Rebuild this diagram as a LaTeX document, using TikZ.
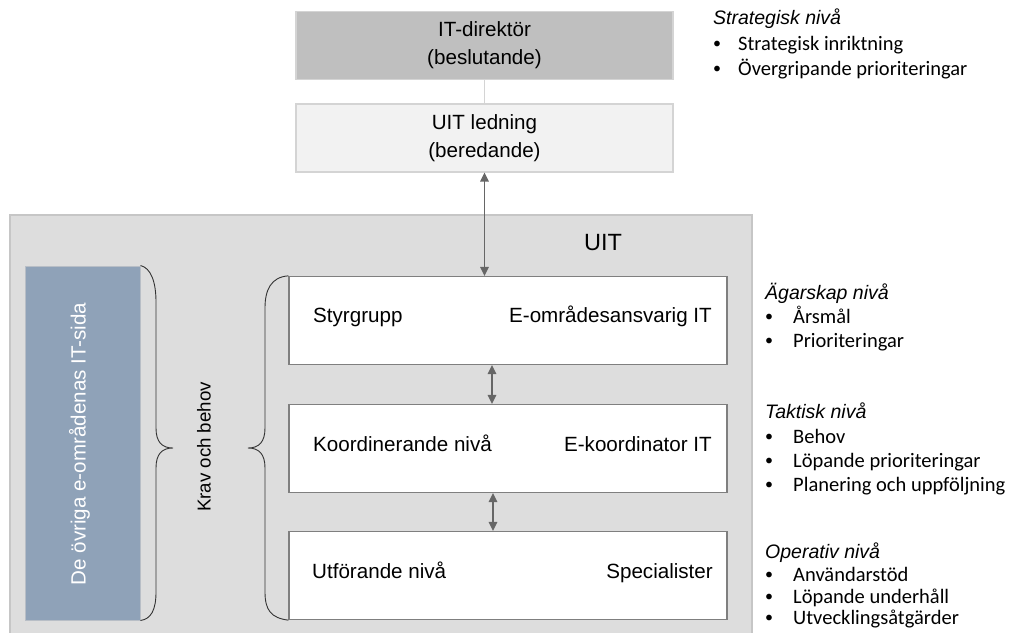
\documentclass[tikz,border=0pt]{standalone}
\usepackage{fontspec}
\setmainfont{Liberation Sans}
\newfontfamily\calfont{Carlito}
\usetikzlibrary{arrows.meta}
\definecolor{bggray}{HTML}{DDDDDD}
\definecolor{bgline}{HTML}{C6C6C6}
\definecolor{dirfill}{HTML}{BFBFBF}
\definecolor{ledfill}{HTML}{F2F2F2}
\definecolor{topline}{HTML}{D4D4D4}
\definecolor{bluefill}{HTML}{8FA2B8}
\definecolor{blueline}{HTML}{B8BEC6}
\definecolor{boxline}{HTML}{7F7F7F}
\definecolor{arrowcol}{HTML}{666666}
\definecolor{bracecol}{HTML}{333333}
\tikzset{
  boxfont/.style={font=\fontsize{20.6}{28}\selectfont},
  topbox/.style={draw=topline, line width=1.2pt, minimum width=377pt, minimum height=68pt, inner sep=0pt, align=center, boxfont},
  levelbox/.style={draw=boxline, fill=white, line width=1.3pt, minimum width=438pt, minimum height=88pt, inner sep=0pt},
  lbl/.style={boxfont, inner sep=0pt, text height=0.716em, text depth=0pt},
  head/.style={font=\fontsize{19.5}{22}\itshape, inner sep=0pt, text height=0.716em, text depth=0pt, anchor=west},
  item/.style={font=\calfont\fontsize{20.5}{24}\selectfont, inner sep=0pt, text height=0.63em, text depth=0pt, anchor=west},
  dblarrow/.style={draw=arrowcol, line width=1.5pt, {Triangle[length=9pt,width=8.5pt]}-{Triangle[length=9pt,width=8.5pt]}},
  bracestyle/.style={draw=bracecol, line width=0.9pt}
}
\newcommand{\smallbullet}{\raisebox{0.06em}{\fontsize{16}{16}\selectfont•}}
\newcommand{\bul}[1]{\makebox[28pt][l]{\smallbullet}#1}
\newcommand{\bulb}[1]{\makebox[25pt][l]{\smallbullet}#1}
\begin{document}
\begin{tikzpicture}[x=1pt,y=-1pt]
\useasboundingbox (0,0) rectangle (1012,632);
\begin{scope}
\clip (0,0) rectangle (1012,632);
\node[draw=bgline, fill=bggray, line width=2pt, minimum width=742pt, minimum height=440pt, inner sep=0pt] (uitarea) at (381,435) {};
\end{scope}
% top boxes
\node[topbox, fill=dirfill] (dir) at (484.5,45.5) {IT-direktör\\(beslutande)};
\node[topbox, fill=ledfill] (led) at (484.5,138) {UIT ledning\\(beredande)};
\draw[draw=topline, line width=1.2pt] (dir.south) -- (led.north);
\node[font=\fontsize{23.5}{26}\selectfont, inner sep=0pt, text height=0.716em, text depth=0pt] (uitlbl) at (603,247) {UIT};
% left blue box
\node[draw=blueline, fill=bluefill, line width=1pt, minimum width=115pt, minimum height=354pt, inner sep=0pt] (blue) at (82.5,443) {};
\node[lbl, text=white, rotate=90] (bluetxt) at (82,444) {De övriga e-områdenas IT-sida};
% level boxes
\node[levelbox] (b1) at (508,320.5) {};
\node[levelbox] (b2) at (508,448.5) {};
\node[levelbox] (b3) at (508,575.5) {};
\node[lbl, anchor=west] (t1l) at (313,319) {Styrgrupp};
\node[lbl, anchor=east] (t1r) at (712,319) {E-områdesansvarig IT};
\node[lbl, anchor=west] (t2l) at (313,448) {Koordinerande nivå};
\node[lbl, anchor=east] (t2r) at (712,448) {E-koordinator IT};
\node[lbl, anchor=west] (t3l) at (312,575) {Utförande nivå};
\node[lbl, anchor=east] (t3r) at (713,575) {Specialister};
% arrows
\draw[dblarrow] (led.south) -- (led.south |- b1.north);
\draw[dblarrow] ([xshift=-16pt]b1.south) -- ([xshift=-16pt]b2.north);
\draw[dblarrow] ([xshift=-15pt]b2.south) -- ([xshift=-15pt]b3.north);
% braces
\coordinate (lbtop) at (blue.north east);
\coordinate (lbbot) at (blue.south east);
\coordinate (lbtip) at (173,448);
\draw[bracestyle] (lbtop) .. controls (151,268) and (156,282) .. (156,302) -- (156,428) .. controls (156,442) and (162,448) .. (lbtip) .. controls (162,448) and (156,454) .. (156,468) -- (156,592) .. controls (156,610) and (151,619) .. (lbbot);
\coordinate (rbtop) at (b1.north west);
\coordinate (rbbot) at (b3.south west);
\coordinate (rbtip) at (248,448);
\draw[bracestyle] (rbtop) .. controls (271,277) and (265,290) .. (265,308) -- (265,428) .. controls (265,442) and (259,448) .. (rbtip) .. controls (259,448) and (265,454) .. (265,468) -- (265,592) .. controls (265,610) and (271,618) .. (rbbot);
\node[font=\fontsize{18.7}{22}\selectfont, inner sep=0pt, text height=0.716em, text depth=0pt, rotate=90] (krav) at (207,447) {Krav och behov};
% right-hand texts
\node[head] (hs) at (713,21) {Strategisk nivå};
\node[item] (s1) at (713,47) {\bulb{Strategisk inriktning}};
\node[item] (s2) at (713,72) {\bulb{Övergripande prioriteringar}};
\node[head] (ha) at (765,296) {Ägarskap nivå};
\node[item] (a1) at (765,320) {\bul{Årsmål}};
\node[item] (a2) at (765,344) {\bul{Prioriteringar}};
\node[head] (ht) at (765,415) {Taktisk nivå};
\node[item] (k1) at (765,440) {\bul{Behov}};
\node[item] (k2) at (765,464) {\bul{Löpande prioriteringar}};
\node[item] (k3) at (765,488) {\bul{Planering och uppföljning}};
\node[head] (ho) at (765,555) {Operativ nivå};
\node[item] (o1) at (765,578) {\bul{Användarstöd}};
\node[item] (o2) at (765,600) {\bul{Löpande underhåll}};
\node[item] (o3) at (765,621) {\bul{Utvecklingsåtgärder}};
\end{tikzpicture}
\end{document}
